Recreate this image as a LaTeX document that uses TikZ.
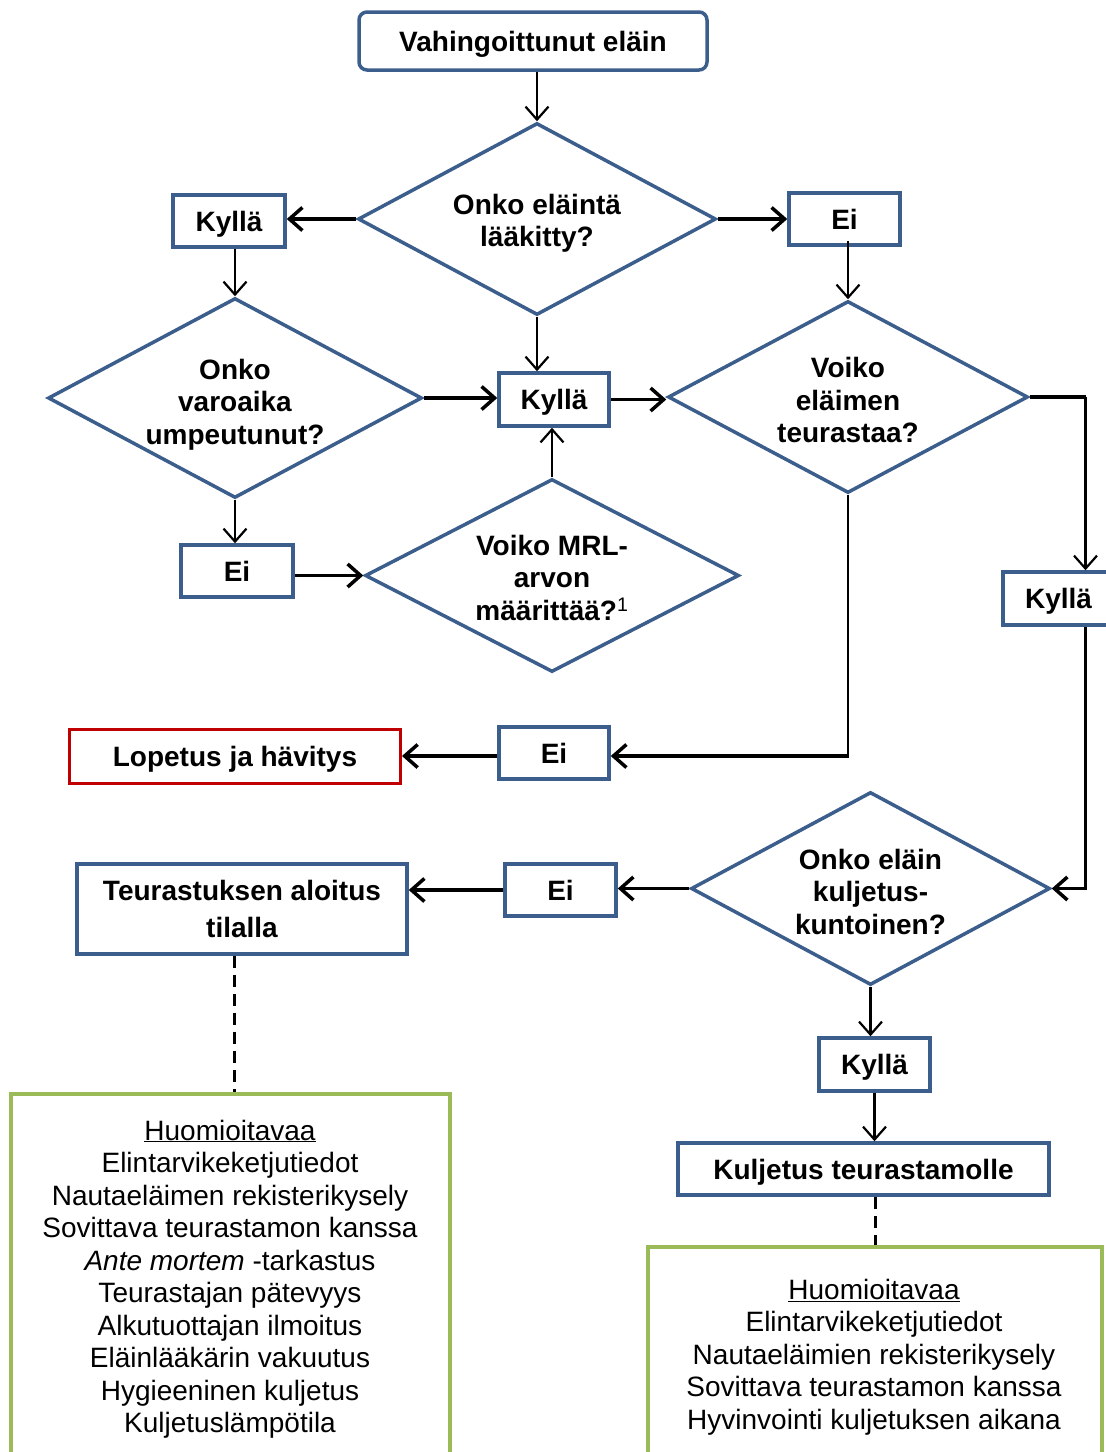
\documentclass[tikz,border=0pt]{standalone}
\usepackage{fontspec}
\setmainfont{Liberation Sans}
\usetikzlibrary{shapes.geometric,arrows.meta,calc}
\definecolor{boxblue}{RGB}{59,94,140}
\definecolor{redline}{RGB}{192,0,0}
\definecolor{greenline}{RGB}{155,187,89}
\newcommand{\topstrut}[1]{\rule{0pt}{#1}}
\begin{document}
\begin{tikzpicture}[x=1pt,y=-1pt,
  every node/.style={font=\fontsize{28}{32.5}\selectfont},
  bluebox/.style={draw=boxblue, line width=3.5pt, fill=white, inner sep=0pt, align=center,
    font=\fontsize{28}{32.5}\selectfont\bfseries},
  oneline/.style={text height=22pt, text depth=2pt},
  redbox/.style={bluebox, draw=redline, line width=3pt},
  greenbox/.style={draw=greenline, line width=3.5pt, inner sep=0pt},
  dec/.style={diamond, aspect=1.86, draw=boxblue, line width=3.5pt, fill=white, inner sep=0pt, align=center,
    font=\fontsize{28}{32.5}\selectfont\bfseries},
  arr/.style={-{Straight Barb[length=13pt,width=23pt]}},
  slim/.style={line width=2.2pt},
  heavy/.style={line width=3.5pt},
  dashconn/.style={line width=3pt, dash pattern=on 12pt off 7pt},
  notes/.style={align=center, inner sep=0pt}
]
\useasboundingbox (0,0) rectangle (1106,1452);
\clip (0,0) rectangle (1106,1452);

% nodes
\node[bluebox, oneline, rounded corners=8pt, minimum width=348pt, minimum height=58pt] (top) at (533,41) {Vahingoittunut eläin};
\node[dec, minimum width=358pt, minimum height=192pt] (d1) at (537,219) {\topstrut{29pt}Onko eläintä\\lääkitty?};
\node[bluebox, oneline, minimum width=112pt, minimum height=52pt] (kyL) at (229,221) {Kyllä};
\node[bluebox, oneline, minimum width=111pt, minimum height=52pt] (eiR) at (844.5,219) {Ei};
\node[dec, minimum width=374pt, minimum height=193pt] (d2) at (235,398) {\topstrut{33pt}Onko\\varoaika\\umpeutunut?};
\node[dec, minimum width=360pt, minimum height=192pt] (d3) at (848,397) {\topstrut{27pt}Voiko\\eläimen\\teurastaa?};
\node[bluebox, oneline, minimum width=110pt, minimum height=53pt] (kyC) at (554,399.5) {Kyllä};
\node[dec, minimum width=374pt, minimum height=193pt] (d4) at (552,575.5) {\topstrut{25pt}Voiko MRL-\\arvon\\määrittää?\textsuperscript{\mdseries 1}};
\node[bluebox, oneline, minimum width=112pt, minimum height=52pt] (eiL) at (237,571) {Ei};
\node[bluebox, oneline, minimum width=111pt, minimum height=53pt] (kyR) at (1058.5,598.5) {Kyllä};
\node[bluebox, oneline, minimum width=110pt, minimum height=52pt] (eiLop) at (554,753) {Ei};
\node[redbox, oneline, minimum width=331pt, minimum height=54pt] (lop) at (235,756) {Lopetus ja hävitys};
\node[dec, minimum width=359pt, minimum height=193pt] (d5) at (870.5,888.5) {\topstrut{27pt}Onko eläin\\kuljetus-\\kuntoinen?};
\node[bluebox, oneline, minimum width=111pt, minimum height=52pt] (ei2) at (560.5,890) {Ei};
\node[bluebox, minimum width=330pt, minimum height=90pt] (teur) at (242,909) {Teurastuksen aloitus\\[4pt]tilalla};
\node[bluebox, oneline, minimum width=111pt, minimum height=53pt] (ky5) at (874.5,1064.5) {Kyllä};
\node[bluebox, oneline, minimum width=371pt, minimum height=52pt] (kulj) at (863.5,1169) {Kuljetus teurastamolle};
\node[greenbox, minimum width=439pt, minimum height=380pt] (g1) at (230.5,1284) {};
\node[greenbox, minimum width=454pt, minimum height=226pt] (g2) at (875,1360) {};
\node[notes] (t1) at (230,1279) {\underline{Huomioitavaa}\\Elintarvikeketjutiedot\\Nautaeläimen rekisterikysely\\Sovittava teurastamon kanssa\\\textit{Ante mortem} -tarkastus\\Teurastajan pätevyys\\Alkutuottajan ilmoitus\\Eläinlääkärin vakuutus\\Hygieeninen kuljetus\\Kuljetuslämpötila};
\node[notes] (t2) at (874,1357) {\underline{Huomioitavaa}\\Elintarvikeketjutiedot\\Nautaeläimien rekisterikysely\\Sovittava teurastamon kanssa\\Hyvinvointi kuljetuksen aikana};

% helper corners
\coordinate (c1) at ([xshift=27pt]kyR.north |- d3.east);
\coordinate (c2) at (c1 |- d5.east);
\coordinate (c3) at (d3.south |- lop.east);

% connectors
\draw[slim,arr] (d1.north |- top.south) -- (d1.north);
\draw[heavy,arr] (d1.west) -- (d1.west -| kyL.east);
\draw[heavy,arr] (d1.east) -- (d1.east -| eiR.west);
\draw[slim,arr] (d2.north |- kyL.south) -- (d2.north);
\draw[slim,arr] ([yshift=6pt]d3.north |- eiR.south) -- (d3.north);
\draw[slim,arr] (d1.south) -- (d1.south |- kyC.north);
\draw[heavy,arr] (d2.east) -- (d2.east -| kyC.west);
\draw[heavy,arr] (kyC.east) -- (kyC.east -| d3.west);
\draw[slim,arr] (d4.north) -- (d4.north |- kyC.south);
\draw[slim,arr] (d2.south) -- (d2.south |- eiL.north);
\draw[heavy,arr] (eiL.east |- d4.west) -- (d4.west);
\draw[heavy] (d3.east) -- (c1);
\draw[slim,arr] (c1) -- (c1 |- kyR.north);
\draw[slim] (c1 |- kyR.south) -- (c2);
\draw[heavy,arr] ([xshift=1pt]c2) -- (d5.east);
\draw[slim] (d3.south) -- (c3);
\draw[heavy,arr] ([xshift=1pt]c3) -- (c3 -| eiLop.east);
\draw[heavy,arr] (eiLop.west |- lop.east) -- (lop.east);
\draw[heavy,arr] (d5.west) -- (d5.west -| ei2.east);
\draw[heavy,arr] (ei2.west) -- (ei2.west -| teur.east);
\draw[slim,arr] (d5.south) -- (d5.south |- ky5.north);
\draw[slim,arr] (ky5.south) -- (ky5.south |- kulj.north);
\draw[dashconn] ([xshift=-8pt]teur.south) -- ([xshift=-8pt]teur.south |- g1.north);
\draw[dashconn] (kulj.south -| g2.north) -- (g2.north);
\end{tikzpicture}
\end{document}
